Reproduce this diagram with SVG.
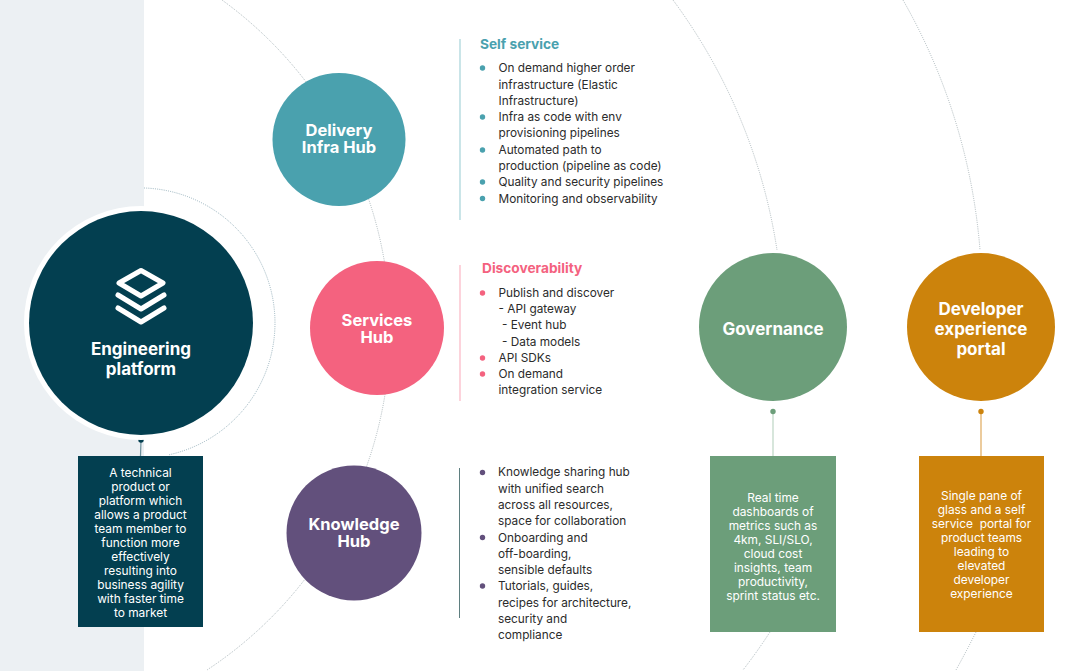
<svg xmlns="http://www.w3.org/2000/svg" width="1080" height="671" viewBox="0 0 1080 671">
<style>
text{font-family:Inter,"Liberation Sans",sans-serif}
.hub{font-size:16.500px;font-weight:700;fill:#fff;text-anchor:middle}
.big{font-size:17px;font-weight:700;fill:#fff;text-anchor:middle}
.box{font-size:11.900px;fill:#fff;text-anchor:middle}
.li{font-size:11.800px;fill:#2b2b2b}
.h{font-size:13.700px;font-weight:700}
.arc{fill:none;stroke:#98a6ab;stroke-width:.8;stroke-dasharray:1 1.200}
</style>
<rect width="144" height="671" fill="#ecf0f3"/>
<g id="connectors">
<path class="arc" d="M222 0A407.500 407.500 0 0 1 207 670"/>
<path class="arc" d="M144 188A135 135 0 0 1 168 455" style="stroke:#7fa0ac"/>
<path class="arc" d="M673 0A563 563 0 0 1 777 250"/>
<path class="arc" d="M770 632Q757 652 743 670"/>
<path class="arc" d="M903 0A600 600 0 0 1 980 250"/>
<path class="arc" d="M976 632Q966 652 956 670"/>
<path d="M141 440L140.500 456" stroke="#6d8f9b" stroke-width="1.200" fill="none"/>
<circle cx="141" cy="440" r="2.700" fill="#033f50"/>
<path d="M773 411.500V456" stroke="#bcd6c4" stroke-width="1.200" fill="none"/>
<circle cx="773" cy="411.500" r="2.700" fill="#6c9e7a"/>
<path d="M981 411.500V456" stroke="#dfa95c" stroke-width="1.200" fill="none"/>
<circle cx="981" cy="411.500" r="2.700" fill="#cc830c"/>
</g>
<g id="engineering-platform">
<circle cx="141" cy="323" r="117" fill="#fff"/>
<circle cx="141" cy="323" r="112" fill="#033f50"/>
<path d="M141 270.500L163 283L141 296L119 283Z" fill="none" stroke="#fff" stroke-width="5" stroke-linejoin="round"/>
<path d="M118 295L141 309L164 295M118 308L141 322L164 308" fill="none" stroke="#fff" stroke-width="5" stroke-linecap="round" stroke-linejoin="round"/>
<text class="big" x="141" y="354.500">Engineering</text>
<text class="big" x="141" y="374.500">platform</text>
</g>
<g id="engineering-note">
<rect x="78" y="456" width="125" height="171" fill="#033f50"/>
<text class="box" x="140.500" y="477">A technical</text>
<text class="box" x="140.500" y="491">product or</text>
<text class="box" x="140.500" y="505">platform which</text>
<text class="box" x="140.500" y="519">allows a product</text>
<text class="box" x="140.500" y="533">team member to</text>
<text class="box" x="140.500" y="547">function more</text>
<text class="box" x="140.500" y="561">effectively</text>
<text class="box" x="140.500" y="575">resulting into</text>
<text class="box" x="140.500" y="589">business agility</text>
<text class="box" x="140.500" y="603">with faster time</text>
<text class="box" x="140.500" y="617">to market</text>
</g>
<g id="delivery-infra-hub">
<circle cx="339" cy="139.500" r="66.500" fill="#4aa1ae"/>
<text class="hub" x="339" y="136">Delivery</text>
<text class="hub" x="339" y="153">Infra Hub</text>
</g>
<g id="services-hub">
<circle cx="377" cy="328" r="67" fill="#f4627f"/>
<text class="hub" x="377" y="326">Services</text>
<text class="hub" x="377" y="343">Hub</text>
</g>
<g id="knowledge-hub">
<circle cx="354" cy="533" r="67.500" fill="#62507c"/>
<text class="hub" x="354" y="530">Knowledge</text>
<text class="hub" x="354" y="547">Hub</text>
</g>
<g id="governance">
<circle cx="773" cy="327" r="74" fill="#6c9e7a"/>
<text class="big" x="773" y="334.500">Governance</text>
</g>
<g id="governance-note">
<rect x="710" y="456" width="126" height="176" fill="#6c9e7a"/>
<text class="box" x="773" y="502">Real time</text>
<text class="box" x="773" y="516">dashboards of</text>
<text class="box" x="773" y="530">metrics such as</text>
<text class="box" x="773" y="544">4km, SLI/SLO,</text>
<text class="box" x="773" y="558">cloud cost</text>
<text class="box" x="773" y="572">insights, team</text>
<text class="box" x="773" y="586">productivity,</text>
<text class="box" x="773" y="600">sprint status etc.</text>
</g>
<g id="developer-experience-portal">
<circle cx="981" cy="327" r="74" fill="#cc830c"/>
<text class="big" x="981" y="314.500">Developer</text>
<text class="big" x="981" y="334.500">experience</text>
<text class="big" x="981" y="354.500">portal</text>
</g>
<g id="portal-note">
<rect x="919" y="456" width="125" height="176" fill="#cc830c"/>
<text class="box" x="981.500" y="500">Single pane of</text>
<text class="box" x="981.500" y="514">glass and a self</text>
<text class="box" x="981.500" y="528" xml:space="preserve">service  portal for</text>
<text class="box" x="981.500" y="542">product teams</text>
<text class="box" x="981.500" y="556">leading to</text>
<text class="box" x="981.500" y="570">elevated</text>
<text class="box" x="981.500" y="584">developer</text>
<text class="box" x="981.500" y="598">experience</text>
</g>
<g id="self-service">
<path d="M460 39V220" stroke="#a6d3d9" stroke-width="1.200"/>
<text class="h" x="480" y="49" fill="#4aa1ae">Self service</text>
<g fill="#4aa1ae"><circle cx="482.500" cy="68" r="2.700"/><circle cx="482.500" cy="117" r="2.700"/><circle cx="482.500" cy="150" r="2.700"/><circle cx="482.500" cy="182" r="2.700"/><circle cx="482.500" cy="198.500" r="2.700"/></g>
<text class="li" x="498.500" y="72">On demand higher order</text>
<text class="li" x="498.500" y="88.500">infrastructure (Elastic</text>
<text class="li" x="498.500" y="104.500">Infrastructure)</text>
<text class="li" x="498.500" y="121">Infra as code with env</text>
<text class="li" x="498.500" y="137">provisioning pipelines</text>
<text class="li" x="498.500" y="153.500">Automated path to</text>
<text class="li" x="498.500" y="170">production (pipeline as code)</text>
<text class="li" x="498.500" y="186">Quality and security pipelines</text>
<text class="li" x="498.500" y="202.500">Monitoring and observability</text>
</g>
<g id="discoverability">
<path d="M460 265V401" stroke="#fbb6c4" stroke-width="1.200"/>
<text class="h" x="482" y="273" fill="#f4627f">Discoverability</text>
<g fill="#f4627f"><circle cx="482.500" cy="293" r="2.700"/><circle cx="482.500" cy="358" r="2.700"/><circle cx="482.500" cy="374" r="2.700"/></g>
<text class="li" x="498.500" y="296.500">Publish and discover</text>
<text class="li" x="498.500" y="313">- API gateway</text>
<text class="li" x="502" y="329">- Event hub</text>
<text class="li" x="502" y="345.500">- Data models</text>
<text class="li" x="498.500" y="361.500">API SDKs</text>
<text class="li" x="498.500" y="378">On demand</text>
<text class="li" x="498.500" y="394">integration service</text>
</g>
<g id="knowledge-list">
<path d="M459.500 468V618" stroke="#5f7f80" stroke-width="1"/>
<g fill="#62507c"><circle cx="482.500" cy="472.500" r="2.700"/><circle cx="482.500" cy="537.500" r="2.700"/><circle cx="482.500" cy="586" r="2.700"/></g>
<text class="li" x="498" y="476">Knowledge sharing hub</text>
<text class="li" x="498" y="492.500">with unified search</text>
<text class="li" x="498" y="508.500">across all resources,</text>
<text class="li" x="498" y="525">space for collaboration</text>
<text class="li" x="498" y="541.500">Onboarding and</text>
<text class="li" x="498" y="557.500">off-boarding,</text>
<text class="li" x="498" y="574">sensible defaults</text>
<text class="li" x="498" y="590">Tutorials, guides,</text>
<text class="li" x="498" y="606.500">recipes for architecture,</text>
<text class="li" x="498" y="622.500">security and</text>
<text class="li" x="498" y="639">compliance</text>
</g>
</svg>
